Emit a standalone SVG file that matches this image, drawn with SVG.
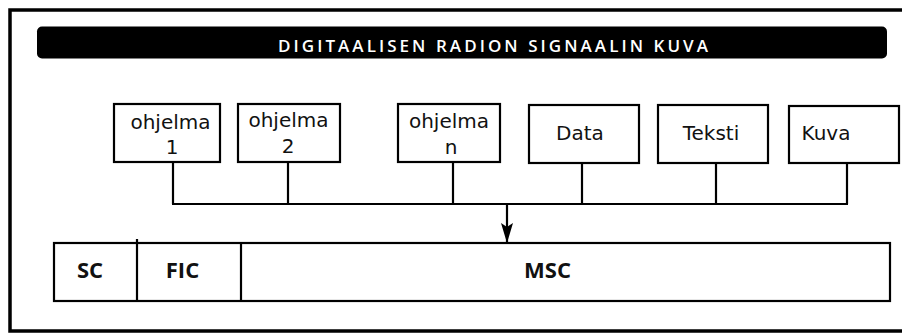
<svg xmlns="http://www.w3.org/2000/svg" width="902" height="335" viewBox="0 0 902 335">
  <defs>
    <style>
      .box { fill: #fff; stroke: #000; stroke-width: 2.2; }
      .lbl { font-family: "DejaVu Sans", "Open Sans", sans-serif; font-size: 20px; fill: #111; text-anchor: middle; }
      .seg { font-family: "Open Sans", "Liberation Sans", sans-serif; font-size: 22px; font-weight: bold; fill: #111; text-anchor: middle; }
      .conn { fill: none; stroke: #000; stroke-width: 2.2; }
    </style>
    <marker id="arr" viewBox="0 0 20 12" refX="20" refY="6" markerWidth="20" markerHeight="12" markerUnits="userSpaceOnUse" orient="auto">
      <path d="M0,0 L20,6 L0,12 L4,6 Z" fill="#000"/>
    </marker>
  </defs>
  <rect width="902" height="335" fill="#fff"/>
  <g id="frame">
    <rect x="10" y="10" width="900" height="321" fill="none" stroke="#000" stroke-width="3.5"/>
  </g>
  <g id="title">
    <rect x="37" y="26.5" width="850" height="32" rx="5" fill="#000"/>
    <text x="278" y="52" font-family="'Open Sans', 'Liberation Sans', sans-serif" font-size="17" font-weight="600" fill="#fff" textLength="430" lengthAdjust="spacing">DIGITAALISEN RADION SIGNAALIN KUVA</text>
  </g>
  <g id="connectors">
    <line class="conn" x1="173" y1="162" x2="173" y2="204"/>
    <line class="conn" x1="288" y1="162" x2="288" y2="204"/>
    <line class="conn" x1="453" y1="162" x2="453" y2="204"/>
    <line class="conn" x1="582" y1="163" x2="582" y2="204"/>
    <line class="conn" x1="716" y1="163" x2="716" y2="204"/>
    <line class="conn" x1="847" y1="163" x2="847" y2="204"/>
    <line class="conn" x1="172" y1="204" x2="848" y2="204"/>
    <line class="conn" x1="507" y1="204" x2="507" y2="243" marker-end="url(#arr)"/>
  </g>
  <g id="ohjelma1">
    <rect class="box" x="114" y="104" width="106" height="58"/>
    <text class="lbl" x="170.5" y="129">ohjelma</text>
    <text class="lbl" x="172" y="154">1</text>
  </g>
  <g id="ohjelma2">
    <rect class="box" x="238" y="104" width="102" height="58"/>
    <text class="lbl" x="288.5" y="127">ohjelma</text>
    <text class="lbl" x="288" y="153">2</text>
  </g>
  <g id="ohjelman">
    <rect class="box" x="398" y="104" width="102" height="58"/>
    <text class="lbl" x="449" y="128">ohjelma</text>
    <text class="lbl" x="451" y="154">n</text>
  </g>
  <g id="data">
    <rect class="box" x="529" y="105" width="110" height="58"/>
    <text class="lbl" x="580" y="140">Data</text>
  </g>
  <g id="teksti">
    <rect class="box" x="658" y="105" width="110" height="58"/>
    <text class="lbl" x="711" y="140">Teksti</text>
  </g>
  <g id="kuva">
    <rect class="box" x="789" y="106" width="110" height="57"/>
    <text class="lbl" x="826" y="140">Kuva</text>
  </g>
  <g id="signal">
    <rect class="box" x="54" y="243" width="836" height="58"/>
    <line class="conn" x1="137" y1="239" x2="137" y2="301"/>
    <line class="conn" x1="241" y1="243" x2="241" y2="301"/>
    <text class="seg" x="90" y="278">SC</text>
    <text class="seg" x="182.5" y="278">FIC</text>
    <text class="seg" x="547.5" y="278">MSC</text>
  </g>
</svg>
